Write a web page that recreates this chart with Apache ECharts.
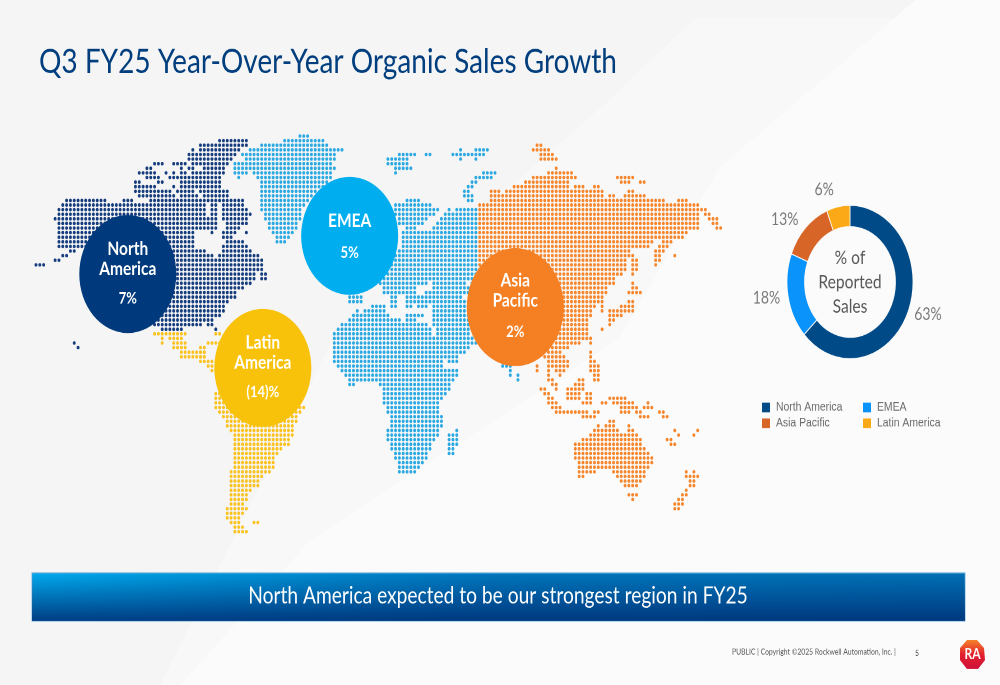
<!DOCTYPE html>
<html>
<head>
<meta charset="utf-8">
<style>
  html, body { margin: 0; padding: 0; width: 1000px; height: 685px; overflow: hidden; background: #f6f6f6; }
  /* the slide is a 16:9 page stretched to the window height */
  #main { width: 1000px; height: 563px; transform: scaleY(1.21670); transform-origin: 0 0; }
</style>
<script src="https://cdn.jsdelivr.net/npm/echarts@6/dist/echarts.min.js"></script>
</head>
<body>
<div id="main"></div>
<script>
const regions = ['North America', 'EMEA', 'Asia Pacific', 'Latin America'];
const salesShare = [63, 18, 13, 6];
const growthLabels = ['7%', '5%', '2%', '(14)%'];
const regionColors = ['#004b87', '#0a93fa', '#d66527', '#fca917'];

// bubble centres in dot-grid units [column, row]
const bubbleNames = ['North\nAmerica', 'EMEA', 'Asia\nPacific', 'Latin\nAmerica'];
const bubbleCols = [24, 82, 125.3, 59.3];
const bubbleRows = [30, 21.7, 37.2, 50.4];
const bubbleColors = ['#003a7d', '#00aeef', '#f58024', '#f9c20a'];
const bubbleTextShift = [3.5, 5.5, 4, 3.5];
const bubblePctLine = [32, 36, 35, 32];

// dot map: [row, from, to, from, to ...] in grid columns
const northAmericaDots = [
  [1,48,55],[2,43,55],[3,41,41,43,53],[4,40,52],[5,40,51],[6,31,33,36,39,41,50],[7,29,30,38,38,40,41,44,49],
  [8,27,31,34,34,36,36,38,39,41,49],[9,29,32,35,36,37,48],[10,26,27,32,33,38,48],[11,26,31,36,36,38,48],
  [12,26,35,37,41,43,50],[13,27,36,38,42,44,50],[14,8,18,23,25,30,43,44,51,52,54],[15,7,44,46,47,49,54],
  [16,6,44,46,47,49,55],[17,6,44,46,47,49,56],[18,5,45,46,47,49,55],[19,6,46,46,47,50,55],[20,6,47,50,53],
  [21,6,41,46,46,49,52,55,55],[22,6,41,49,51],[23,6,41,50,52,53,54],[24,6,41,49,55],[25,9,10,20,44,49,56],
  [26,7,8,20,46,48,58],[27,5,6,20,59],[28,0,2,20,59],[29,20,58,59,59],[30,20,57,59,60],[31,20,57,59,60],
  [32,20,56],[33,20,54],[34,20,52],[35,20,52],[36,20,50],[37,20,49],[38,20,49],[39,20,48],[40,31,46],
  [41,31,43,45,46],[42,33,38,47,47],[45,10,10],[46,11,11]
];
const latinAmericaDots = [
  [43,31,39,47,48],[44,33,33,35,38],[45,33,33,36,39,45,48],[46,36,39,43,44],[47,38,44,43,44],[48,38,44,43,44],
  [49,43,46],[50,45,46],[51,46,47],[52,50,70],[53,50,70],[54,50,70],[55,50,70],[56,47,69],[57,47,69],[58,47,69],
  [59,47,70],[60,48,69],[61,49,68],[62,50,68],[63,50,67],[64,51,67],[65,52,67],[66,52,66],[67,52,66],[68,52,64],
  [69,52,63],[70,52,62],[71,52,62],[72,52,62],[73,51,61],[74,51,59],[75,51,58],[76,51,58],[77,51,56],[78,51,55],
  [79,51,55],[80,51,54],[81,50,55],[82,50,54],[83,50,53],[84,51,53,57,58],[85,52,54],[86,52,55]
];
const emeaDots = [
  [0,69,71],[1,65,75],[2,59,76],[3,56,80,111,111,115,118],[4,54,78,95,99,102,103,109,117],[5,55,78,92,97,111,111,115,115],
  [6,52,77,92,97],[7,52,54,55,78,94,98],[8,52,55,57,77,94,94,117,120],[9,53,53,58,77,115,119],[10,59,76,114,115],
  [11,59,75,113,114],[12,59,73,112,113],[13,59,72,112,114],[14,59,71,97,100,113,114],[15,59,70,94,103],
  [16,59,69,94,105,108,108,110,115],[17,60,69,94,104,107,115],[18,60,69,95,102,106,115],[19,61,68,95,101,105,115],
  [20,61,68,97,99,104,115],[21,62,67,96,115],[22,63,66,96,115],[23,63,65,96,115],[24,96,115],[25,95,115],[26,94,115],
  [27,93,115],[28,92,115],[29,90,115],[30,90,115],[31,89,115],[32,90,102,104,112,114,115],[33,91,99,104,111,112,116],
  [34,91,99,102,116],[35,82,85,93,94,97,98,99,111,114,116],[36,82,85,93,94,97,98,99,107,108,116],
  [37,88,91,93,94,97,98,100,102,104,116],[38,84,84,86,91,104,116],[39,83,92,97,100,101,101,104,115],
  [40,82,95,97,99,104,115],[41,80,102,104,115],[42,79,103,105,113],[43,78,103,105,113],[44,78,104,105,114],
  [45,78,104,105,115],[46,78,105,106,113],[47,78,105,106,112],[48,78,106,107,110],[49,78,106,108,110],
  [50,79,106,122,124],[51,80,110,124,124],[52,81,110,124,124,126,126],[53,82,109,126,126],[54,82,83,90,108],[55,91,108],
  [56,91,107],[57,91,106],[58,91,105],[59,92,105],[60,92,105],[61,93,106],[62,93,106],[63,93,106],[64,92,105,110,110],
  [65,92,105,108,110],[66,92,104,108,110],[67,93,103,108,110],[68,93,103,108,109],[69,94,102,108,109],[70,94,102],
  [71,95,101],[72,95,100],[73,95,99]
];
const asiaPacificDots = [
  [2,131,132],[3,130,134],[4,132,135],[5,132,136],[7,136,136],[8,134,140],[9,130,141,152,156],[10,128,139,153,155,158,159],
  [11,125,139,141,143,146,147],[12,119,121,123,124,125,148,155,156],[13,119,148,150,151,154,159],[14,119,164,168,170],
  [15,116,173],[16,116,175],[17,116,173,175,176],[18,116,173,176,178],[19,116,173,177,178],[20,116,173,178,179],
  [21,116,170],[22,116,169],[23,116,161,164,166],[24,116,160,163,165],[25,116,155,162,164],[26,116,155,156,156,162,163,167,167],
  [27,116,154,156,157,162,163],[28,116,154,156,157,162,162],[29,116,154,156,157],[30,116,153,156,156],[31,116,151],
  [32,116,151,156,156],[33,116,149,156,157],[34,117,149,155,158],[35,117,148],[36,117,148,155,156],[37,117,146,148,148,153,156],
  [38,118,145,148,148,150,156],[39,118,145,150,153],[40,118,144,150,151],[41,118,144,150,150],[42,118,144,148,148],
  [43,118,144],[44,118,144,145,145],[45,136,142,145,145],[46,134,138,139,139],[47,134,137,145,145],[48,133,138,145,145],
  [49,134,139,145,146],[50,131,131,134,139,145,147],[51,131,131,134,134,136,138,145,147],[52,134,134,137,137,146,147],
  [53,134,135,142,143,146,147],[54,135,136,141,143],[55,132,133,136,136,139,143],[56,133,134,139,142,144,145],
  [57,134,135,139,142,144,145,150,154],[58,134,136,143,145,148,149,151,156,160,160],[59,135,137,153,157,159,161],
  [60,136,144,146,147,153,155,157,158,163,164],[61,143,146,158,160,164,165],[62,150,151],[63,147,147,149,151,155,155],
  [64,146,152,155,156,167,167,173,173],[65,145,157,168,168,172,172],[66,143,158,165,166],[67,141,158,166,167],[68,141,159],
  [69,141,160],[70,141,161],[71,142,161],[72,142,160],[73,142,146,151,159,170,170,172,172],[74,142,143,152,159,170,173],
  [75,153,158,171,172],[76,154,157,171,172],[77,170,170],[78,155,157,169,170],[79,156,156,168,169],[80,167,169],[81,167,168]
];
const dotColors = ['#153c7d', '#2aa8e2', '#f6862c', '#fbc21e'];
const pieLabelNudgeX = [-7, 6, 5, 4];
const pieLabelNudgeY = [-1, 0, -2, -7];

const yStretch = 685 / 563;
const py = y => y / yStretch; // positions below are read in window pixels

function expandRuns(rows) {
  const out = [];
  rows.forEach(r => {
    for (let i = 1; i < r.length; i += 2) {
      for (let c = r[i]; c <= r[i + 1]; c++) out.push([c, r[0]]);
    }
  });
  return out;
}

function dotSeries(rows, color) {
  return {
    type: 'scatter', silent: true, symbolSize: 2.9,
    itemStyle: { color: color, opacity: 1 },
    data: expandRuns(rows)
  };
}

const myChart = echarts.init(document.getElementById('main'), null, { devicePixelRatio: 2 });

const legendText = { fontFamily: 'Liberation Sans', fontSize: 10.4, color: '#6a6a6a' };

const option = {
  animation: false,
  backgroundColor: '#f5f5f5',
  textStyle: { fontFamily: 'Lato' },
  title: [{
    text: 'Q3 FY25 Year-Over-Year Organic Sales Growth',
    left: 34, top: py(39),
    textStyle: { fontFamily: 'Lato', fontSize: 28, fontWeight: 'normal', color: '#003e7e' }
  }],
  grid: { left: 36, top: py(136), width: 180 * 3.825, height: py(87 * 4.6) },
  xAxis: { type: 'value', min: 0, max: 180, show: false },
  yAxis: { type: 'value', min: 0, max: 87, inverse: true, show: false },
  legend: [
    {
      orient: 'vertical', left: 755, top: py(394), itemWidth: 10, itemHeight: 10, itemGap: 1, icon: 'rect',
      data: [regions[0], regions[2]], selectedMode: false, textStyle: legendText
    },
    {
      orient: 'vertical', left: 856, top: py(394), itemWidth: 10, itemHeight: 10, itemGap: 1, icon: 'rect',
      data: [regions[1], regions[3]], selectedMode: false, textStyle: legendText
    }
  ],
  series: [
    dotSeries(northAmericaDots, dotColors[0]),
    dotSeries(emeaDots, dotColors[1]),
    dotSeries(asiaPacificDots, dotColors[2]),
    dotSeries(latinAmericaDots, dotColors[3]),
    {
      type: 'scatter', silent: true, symbolSize: 97, z: 5,
      data: bubbleNames.map((n, i) => ({
        value: [bubbleCols[i], bubbleRows[i]],
        itemStyle: { color: bubbleColors[i], opacity: 1 },
        label: {
          show: true, position: 'inside', offset: [0, bubbleTextShift[i]],
          formatter: n.split('\n').map(s => '{n|' + s + '}').join('\n') + '\n{p|' + growthLabels[i] + '}',
          rich: {
            n: { fontFamily: 'Lato', fontSize: 15.5, fontWeight: 'bold', color: '#fff', lineHeight: 16.5, align: 'center' },
            p: { fontFamily: 'Lato', fontSize: 13, fontWeight: 'bold', color: '#fff', lineHeight: bubblePctLine[i], align: 'center' }
          }
        }
      }))
    },
    {
      type: 'pie', silent: true,
      center: [850, py(282)],
      radius: [45.5, 63],
      startAngle: 90, clockwise: true,
      itemStyle: { borderColor: '#fbfbfb', borderWidth: 0.8 },
      label: {
        show: true, position: 'outside', formatter: '{c}%',
        fontFamily: 'Lato', fontSize: 14, color: '#7a7a7a'
      },
      labelLine: { show: false, length: 7, length2: 2 },
      labelLayout: p => ({ dx: pieLabelNudgeX[p.dataIndex], dy: pieLabelNudgeY[p.dataIndex] }),
      data: regions.map((r, i) => ({ name: r, value: salesShare[i], itemStyle: { color: regionColors[i] } }))
    }
  ],
  graphic: [
    // pale slide background facets
    { type: 'polygon', silent: true, z: -10, shape: { points: [[695, py(18)], [1000, py(18)], [1000, py(685)], [160, py(685)], [330, py(345)], [600, py(108)]] }, style: { fill: '#f8f8f8' } },
    { type: 'polygon', silent: true, z: -9, shape: { points: [[180, py(685)], [310, py(540)], [617, py(340)], [720, py(167)], [915, py(0)], [1000, py(0)], [1000, py(685)]] }, style: { fill: '#fbfbfb' } },
    {
      type: 'text', silent: true, z: 6,
      style: { x: 850, y: py(282), text: '% of\nReported\nSales', align: 'center', verticalAlign: 'middle', fontFamily: 'Lato', fontSize: 15.6, lineHeight: 20, fill: '#595959' }
    },
    // message banner
    {
      type: 'rect', silent: true, z: 1,
      shape: { x: 32, y: py(573), width: 933, height: py(48) },
      style: {
        fill: new echarts.graphic.LinearGradient(0, 0, 1, 0, [{ offset: 0, color: '#00aaee' }, { offset: 0.5, color: '#0076bc' }, { offset: 1, color: '#0070b5' }]),
        stroke: '#5aa8d8', lineWidth: 0.8
      }
    },
    {
      type: 'rect', silent: true, z: 1,
      shape: { x: 32, y: py(573), width: 933, height: py(48) },
      style: { fill: new echarts.graphic.LinearGradient(0, 0, 0, 1, [{ offset: 0, color: 'rgba(0,50,120,0)' }, { offset: 1, color: 'rgba(0,50,120,0.9)' }]) }
    },
    {
      type: 'text', silent: true, z: 2,
      style: { x: 498, y: py(596), text: 'North America expected to be our strongest region in FY25', align: 'center', verticalAlign: 'middle', fontFamily: 'Lato', fontSize: 19.2, fill: '#fff' }
    },
    // footer
    {
      type: 'text', silent: true, z: 2,
      style: { x: 732, y: py(652), text: 'PUBLIC | Copyright ©2025 Rockwell Automation, Inc. |', align: 'left', verticalAlign: 'middle', fontFamily: 'Lato', fontSize: 6.8, fill: '#555' }
    },
    {
      type: 'text', silent: true, z: 2,
      style: { x: 917, y: py(653), text: '5', align: 'center', verticalAlign: 'middle', fontFamily: 'Lato', fontSize: 7, fill: '#555' }
    },
    // logo
    {
      type: 'polygon', silent: true, z: 2,
      shape: { points: [[967, py(640)], [977, py(640)], [984, py(648)], [985, py(660)], [978, py(669)], [967, py(669)], [960, py(660)], [960, py(648)]] },
      style: { fill: new echarts.graphic.LinearGradient(0, 0, 0, 1, [{ offset: 0, color: '#f5822a' }, { offset: 0.5, color: '#e2202f' }, { offset: 1, color: '#d0103a' }]) }
    },
    {
      type: 'text', silent: true, z: 3,
      style: { x: 972.5, y: py(654), text: 'RA', align: 'center', verticalAlign: 'middle', fontFamily: 'Lato', fontWeight: 'bold', fontSize: 12, fill: '#fff' }
    }
  ]
};
myChart.setOption(option);
</script>
</body>
</html>
